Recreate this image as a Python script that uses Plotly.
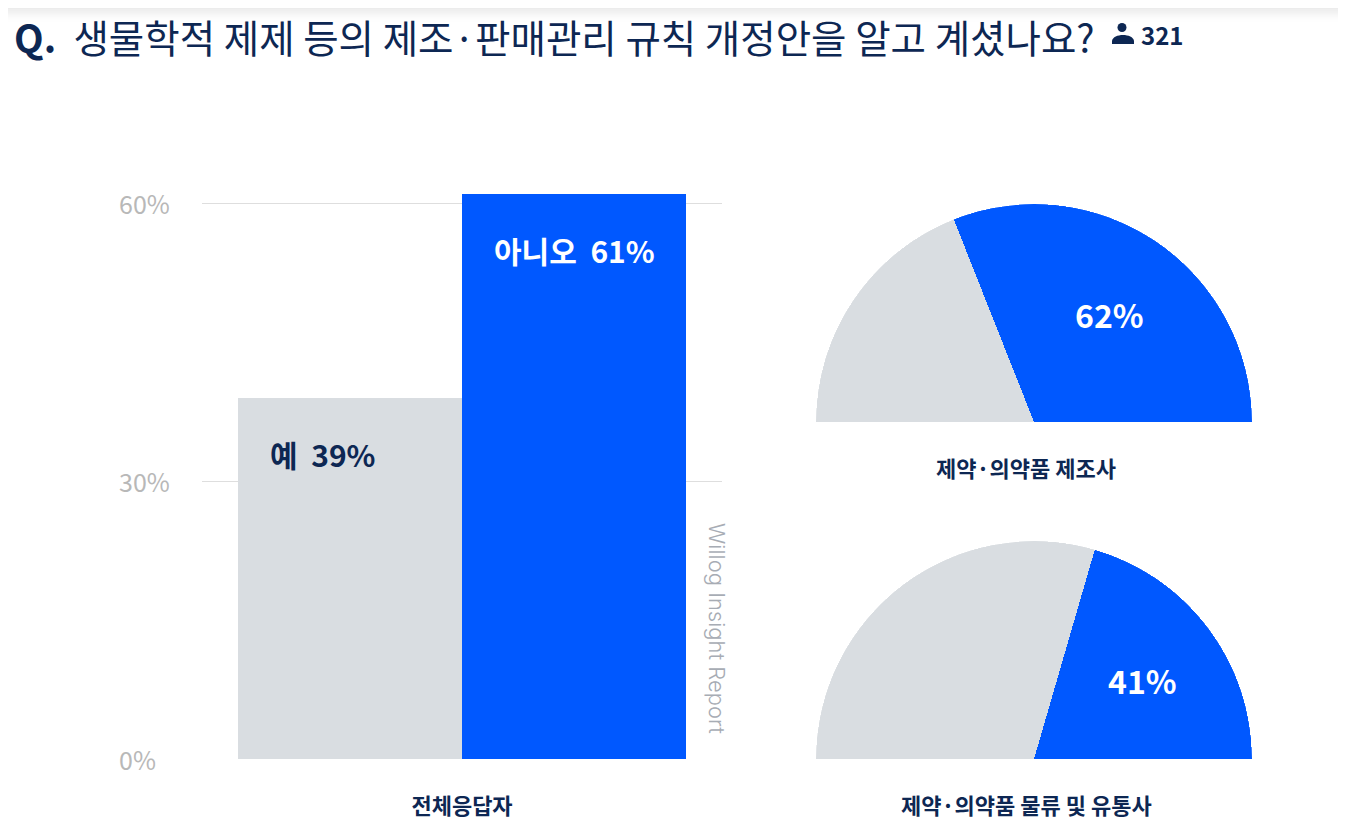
import math
import plotly.graph_objects as go

W, H = 1346, 833
OX, OY = 8, 8   # page margin of the html body

# data
bar_labels = ["예", "아니오"]
bar_values = [39, 61]
bar_category = "전체응답자"
y_ticks = [0, 30, 60]

pie_titles = ["제약·의약품 제조사", "제약·의약품 물류 및 유통사"]
pie_no = [62, 41]          # 아니오 share (blue)
pie_yes = [38, 59]         # 예 share (gray)

respondents = 321
title_text = "<b>Q.</b>  생물학적 제제 등의 제조·판매관리 규칙 개정안을 알고 계셨나요?"

BLUE = "#0058ff"
GRAY = "#d9dde1"
NAVY = "#0d2753"
FONT = "Noto Sans CJK KR"


def px(x):
    return (x - OX) / W


def py(y):
    return 1 - (y - OY) / H


fig = go.Figure()

# bar chart
bar_colors = [GRAY, BLUE]
for i, (lab, val) in enumerate(zip(bar_labels, bar_values)):
    fig.add_trace(go.Bar(x=[i], y=[val], width=1, name=lab,
                         marker=dict(color=bar_colors[i], line=dict(width=0)),
                         hoverinfo="skip", showlegend=False))
    fig.add_annotation(x=i - 0.5, y=val, xref="x", yref="y",
                       text="<b>%s  %d%%</b>" % (lab, val),
                       xanchor="left", yanchor="middle", xshift=30, yshift=-56,
                       showarrow=False,
                       font=dict(family=FONT, size=30,
                                 color=NAVY if i == 0 else "white"))

for t in y_ticks:
    fig.add_annotation(x=px(117), y=t, xref="paper", yref="y",
                       text="%d%%" % t, xanchor="left", yanchor="middle",
                       showarrow=False,
                       font=dict(family=FONT, size=25, color="#b8b8b8"))

# half pies as polar bars
pie_domains = [(816, 1252, 204, 422), (816, 1252, 541, 759)]
for k in range(len(pie_titles)):
    x0, x1, y0, y1 = pie_domains[k]
    name = "polar" if k == 0 else "polar%d" % (k + 1)
    yes_w = pie_yes[k] / (pie_yes[k] + pie_no[k]) * 180
    no_w = 180 - yes_w
    fig.add_trace(go.Barpolar(r=[1, 1], theta=[180 - yes_w / 2, no_w / 2],
                              width=[yes_w, no_w],
                              marker=dict(color=[GRAY, BLUE], line=dict(width=0)),
                              subplot=name, hoverinfo="skip", showlegend=False))
    fig.layout[name] = dict(
        domain=dict(x=[px(x0), px(x1)], y=[py(y1), py(y0)]),
        sector=[0, 180], hole=0, bgcolor="white",
        radialaxis=dict(visible=False, range=[0, 1]),
        angularaxis=dict(visible=False),
    )
    # value label inside the blue slice
    cx, cy, R = (x0 + x1) / 2, y1, (x1 - x0) / 2
    a = math.radians(no_w / 2)
    fig.add_annotation(x=px(cx + 0.62 * R * math.cos(a)), y=py(cy - 0.6 * R * math.sin(a)),
                       xref="paper", yref="paper", text="<b>%d%%</b>" % pie_no[k],
                       xanchor="center", yanchor="middle", showarrow=False,
                       font=dict(family=FONT, size=32, color="white"))
    fig.add_annotation(x=px(cx - 8), y=py(y1 + 45), xref="paper", yref="paper",
                       text="<b>%s</b>" % pie_titles[k], showarrow=False,
                       xanchor="center", yanchor="middle",
                       font=dict(family=FONT, size=22, color=NAVY))

# title and respondents
fig.add_annotation(x=px(12), y=py(36), xref="paper", yref="paper", text=title_text,
                   xanchor="left", yanchor="middle", showarrow=False,
                   font=dict(family=FONT, size=38.5, color=NAVY))
fig.add_annotation(x=px(1139), y=py(35), xref="paper", yref="paper",
                   text="<b>%d</b>" % respondents, xanchor="left", yanchor="middle",
                   showarrow=False, font=dict(family=FONT, size=24, color=NAVY))

# watermark
fig.add_annotation(x=px(717), y=py(628), xref="paper", yref="paper",
                   text="Willog Insight Report", textangle=90, showarrow=False,
                   xanchor="center", yanchor="middle",
                   font=dict(family="Inter", size=22, color="#a7acb4", weight=300))

shapes = []
# soft gray shade at the top edge
for i in range(10):
    shapes.append(dict(type="rect", xref="paper", yref="paper", x0=0, x1=1,
                       y0=py(OY + i * 1.4 + 1.4), y1=py(OY + i * 1.4), line=dict(width=0),
                       fillcolor="rgba(200,200,200,%.3f)" % (0.35 * (1 - i / 10) ** 1.5),
                       layer="below"))
# person icon
shapes.append(dict(type="circle", xref="paper", yref="paper",
                   x0=px(1117.5), x1=px(1126.5), y0=py(32), y1=py(23),
                   fillcolor=NAVY, line=dict(width=0)))
shapes.append(dict(type="path", xref="paper", yref="paper",
                   path="M %f %f L %f %f C %f %f %f %f %f %f L %f %f Z" % (
                       px(1112), py(44), px(1112), py(41),
                       px(1113), py(33), px(1133), py(33),
                       px(1134), py(41), px(1134), py(44)),
                   fillcolor=NAVY, line=dict(width=0)))

fig.update_layout(
    width=W, height=H,
    margin=dict(l=0, r=0, t=0, b=0),
    paper_bgcolor="white", plot_bgcolor="white",
    bargap=0, barmode="overlay",
    shapes=shapes,
    xaxis=dict(domain=[px(202), px(722)], range=[-0.661, 1.661],
               tickvals=[0.5], ticktext=["<b>%s</b>" % bar_category],
               tickfont=dict(family=FONT, size=22, color=NAVY),
               ticks="", showgrid=False, zeroline=False, showline=False,
               ticklabelstandoff=32, fixedrange=True),
    yaxis=dict(domain=[py(759), py(156.7)], range=[0, 65], tickvals=y_ticks,
               showticklabels=False, gridcolor="#dedede", gridwidth=1,
               zeroline=False, showline=False, fixedrange=True),
    font=dict(family=FONT),
)

fig.write_html("out.html")
